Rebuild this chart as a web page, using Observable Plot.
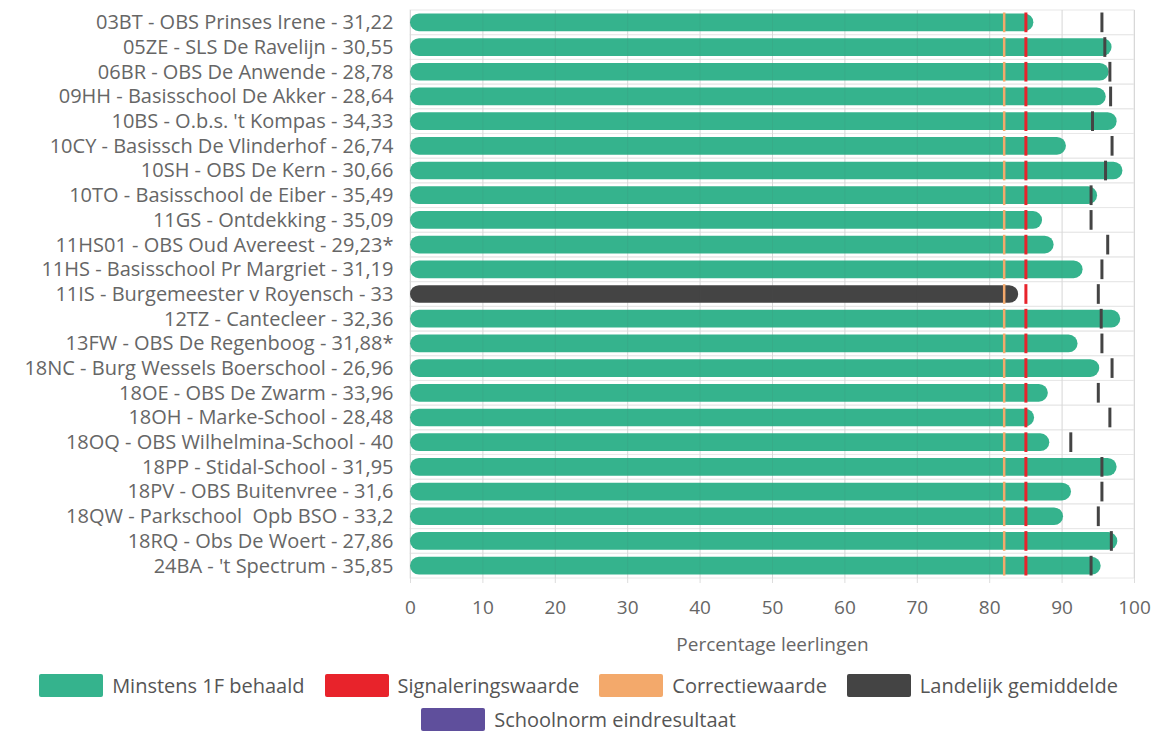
<!DOCTYPE html>
<html>
<head>
<meta charset="utf-8">
<script src="https://cdn.jsdelivr.net/npm/d3@7"></script>
<script src="https://cdn.jsdelivr.net/npm/@observablehq/plot@0.6"></script>
<style>
  html, body { margin: 0; padding: 0; background: #fff; }
  body { width: 1157px; font-family: "Open Sans", sans-serif; }
  #legend { display: flex; flex-wrap: wrap; justify-content: center; column-gap: 20px; row-gap: 8px; width: 1157px; margin-top: 4px; }
  .item { display: flex; align-items: center; height: 26px; font-size: 20px; color: #555; }
  .sw { width: 64px; height: 23px; margin-right: 9px; border-radius: 2px; }
</style>
</head>
<body>
<div id="chart"></div>
<div id="legend"></div>
<script>
const schools = [
  "03BT - OBS Prinses Irene - 31,22",
  "05ZE - SLS De Ravelijn - 30,55",
  "06BR - OBS De Anwende - 28,78",
  "09HH - Basisschool De Akker - 28,64",
  "10BS - O.b.s. 't Kompas - 34,33",
  "10CY - Basissch De Vlinderhof - 26,74",
  "10SH - OBS De Kern - 30,66",
  "10TO - Basisschool de Eiber - 35,49",
  "11GS - Ontdekking - 35,09",
  "11HS01 - OBS Oud Avereest - 29,23*",
  "11HS - Basisschool Pr Margriet - 31,19",
  "11IS - Burgemeester v Royensch - 33",
  "12TZ - Cantecleer - 32,36",
  "13FW - OBS De Regenboog - 31,88*",
  "18NC - Burg Wessels Boerschool - 26,96",
  "18OE - OBS De Zwarm - 33,96",
  "18OH - Marke-School - 28,48",
  "18OQ - OBS Wilhelmina-School - 40",
  "18PP - Stidal-School - 31,95",
  "18PV - OBS Buitenvree - 31,6",
  "18QW - Parkschool  Opb BSO - 33,2",
  "18RQ - Obs De Woert - 27,86",
  "24BA - 't Spectrum - 35,85"
];
const behaald = [86.1, 96.9, 96.5, 96.1, 97.6, 90.6, 98.4, 94.9, 87.3, 88.9, 92.9, 84.0, 98.1, 92.2, 95.2, 88.1, 86.2, 88.3, 97.6, 91.3, 90.2, 97.7, 95.4];
const landelijk = [95.5, 95.9, 96.6, 96.7, 94.2, 96.9, 96.0, 94.0, 94.0, 96.3, 95.5, 95.0, 95.4, 95.5, 96.9, 95.0, 96.6, 91.2, 95.5, 95.5, 95.0, 96.8, 94.0];
const signaleringswaarde = 85;
const correctiewaarde = 82;
const xTicks = [0, 10, 20, 30, 40, 50, 60, 70, 80, 90, 100];
const seriesNames = ["Minstens 1F behaald", "Signaleringswaarde", "Correctiewaarde", "Landelijk gemiddelde", "Schoolnorm eindresultaat"];
const seriesColors = ["#35b38d", "#e8232b", "#f3a96b", "#444444", "#5f4f9c"];

const data = schools.map((s, i) => ({
  school: s,
  value: behaald[i],
  landelijk: landelijk[i],
  signal: signaleringswaarde,
  correctie: correctiewaarde,
  lo: xTicks[0],
  hi: xTicks[xTicks.length - 1]
}));

const chart = Plot.plot({
  width: 1157,
  height: 668,
  marginLeft: 410,
  marginRight: 23,
  marginTop: 10,
  marginBottom: 90,
  style: { fontFamily: "'Open Sans', sans-serif", fontSize: "19px", color: "#666", background: "#fff" },
  x: { domain: [0, 100], ticks: xTicks, label: "Percentage leerlingen" },
  y: { domain: schools, padding: 0, round: false, label: null },
  marks: [
    Plot.barX(data, { x1: "lo", x2: "hi", y: "school", fill: "none", stroke: "#e8e8e8", strokeWidth: 1 }),
    Plot.gridX(xTicks, { stroke: "#e3e3e3", strokeOpacity: 1 }),
    Plot.barX(data, { x1: "lo", x2: "value", y: "school", fill: d => d.value < d.signal ? seriesColors[3] : seriesColors[0], rx: 9, insetTop: 3.5, insetBottom: 3.5 }),
    Plot.gridX(xTicks, { stroke: "#555", strokeOpacity: 0.08 }),
    Plot.tickX(data, { x: "correctie", y: "school", stroke: seriesColors[2], strokeWidth: 2.5, insetTop: 2.5, insetBottom: 2.5 }),
    Plot.tickX(data, { x: "signal", y: "school", stroke: seriesColors[1], strokeWidth: 3, insetTop: 2.5, insetBottom: 2.5 }),
    Plot.tickX(data, { x: "landelijk", y: "school", stroke: seriesColors[3], strokeWidth: 3, insetTop: 2.5, insetBottom: 2.5 }),
    Plot.axisX(xTicks, { tickSize: 5, tickPadding: 17, stroke: "#ddd", fill: "#666", fontSize: 19, label: "Percentage leerlingen", labelAnchor: "center", labelOffset: 72, labelArrow: "none" }),
    Plot.axisY({ tickSize: 0, tickPadding: 17, fill: "#666", fontSize: 20, label: null })
  ]
});
document.getElementById("chart").appendChild(chart);

const legend = document.getElementById("legend");
seriesNames.forEach((n, i) => {
  const it = document.createElement("div");
  it.className = "item";
  const sw = document.createElement("div");
  sw.className = "sw";
  sw.style.background = seriesColors[i];
  const lb = document.createElement("span");
  lb.textContent = n;
  it.appendChild(sw); it.appendChild(lb);
  legend.appendChild(it);
});
</script>
</body>
</html>
